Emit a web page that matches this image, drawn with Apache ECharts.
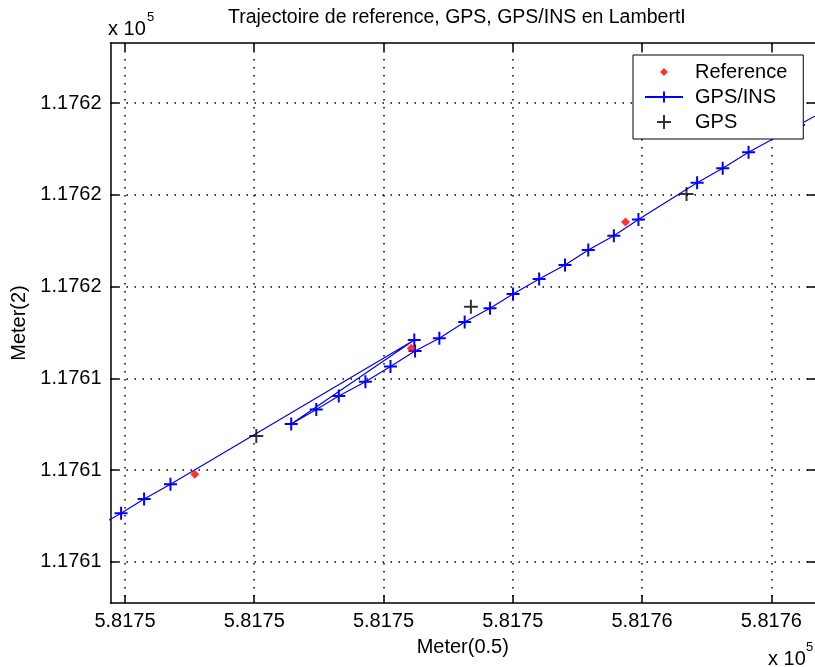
<!DOCTYPE html>
<html>
<head>
<meta charset="utf-8">
<script src="https://cdn.jsdelivr.net/npm/echarts@6/dist/echarts.min.js"></script>
<style>
html,body{margin:0;padding:0;background:#fff;}
#chart{width:815px;height:667px;}
</style>
</head>
<body>
<div id="chart"></div>
<script>
// ---- data ----
const xTickValues = [581753, 581753.5, 581754, 581754.5, 581755, 581755.5];
const xTickLabels = ['5.8175', '5.8175', '5.8175', '5.8175', '5.8176', '5.8176'];
const yTickValues = [117610, 117612, 117614, 117616, 117618, 117620];
const yTickLabels = ['1.1761', '1.1761', '1.1761', '1.1762', '1.1762', '1.1762'];
const xRange = [581752.944, 581755.669];
const yRange = [117609.099, 117621.313];

// GPS/INS trajectory (Lambert I, metres)
const insX = [581752.888, 581752.985, 581753.074, 581753.176, 581754.119, 581753.643, 581753.740,
  581753.827, 581753.930, 581754.027, 581754.122, 581754.216, 581754.314, 581754.412, 581754.501,
  581754.602, 581754.702, 581754.792, 581754.891, 581754.986, 581755.213, 581755.312, 581755.412,
  581755.605, 581755.706];
const insY = [117610.746, 117611.056, 117611.367, 117611.688, 117614.835, 117613.003, 117613.320,
  117613.614, 117613.926, 117614.257, 117614.595, 117614.872, 117615.228, 117615.527, 117615.839,
  117616.166, 117616.471, 117616.798, 117617.110, 117617.463, 117618.266, 117618.580, 117618.929,
  117619.524, 117619.830];

// Reference points
const refX = [581753.270, 581754.107, 581754.936];
const refY = [117611.906, 117614.654, 117617.409];

// GPS points
const gpsX = [581753.508, 581754.338, 581755.172];
const gpsY = [117612.742, 117615.562, 117618.020];

const seriesNames = ['Reference', 'GPS/INS', 'GPS'];
const titleText = 'Trajectoire de reference, GPS, GPS/INS en LambertI';

// ---- build ----
const zip = (xs, ys) => xs.map((x, i) => [x, ys[i]]);
const FONT = '"Liberation Sans", Arial, Helvetica, sans-serif';
const PLUS = 'path://M0,6L12,6M6,0L6,12';
const DIAMOND_PAD = 'path://M0,0M14,14M7,3L11,7L7,11L3,7Z';

function labelFor(values, labels) {
  return function (v) {
    const i = values.findIndex(t => Math.abs(t - v) < 1e-6);
    return i >= 0 ? labels[i] : '';
  };
}

const axisLineStyle = { color: '#000', width: 1.5 };
const tickCommon = { show: true, inside: true, length: 8, lineStyle: { color: '#000', width: 1.5 } };
const gridLine = { show: true, lineStyle: { color: '#000', width: 1.5, type: [1.5, 6.5] } };

const chart = echarts.init(document.getElementById('chart'), null, { renderer: 'canvas' });
chart.setOption({
  animation: false,
  backgroundColor: '#fff',
  title: {
    text: titleText,
    left: 228, top: 8, padding: 0,
    textStyle: { fontFamily: FONT, fontSize: 19.5, fontWeight: 'normal', color: '#000' }
  },
  grid: { left: 110.5, top: 43, width: 706, height: 560, containLabel: false },
  legend: {
    orient: 'vertical',
    left: 633, top: 55,
    padding: [7, 16, 7, 11],
    backgroundColor: '#fff',
    borderColor: '#000', borderWidth: 1, borderRadius: 0,
    itemWidth: 38, itemHeight: 14, itemGap: 5,
    selectedMode: false,
    textStyle: { fontFamily: FONT, fontSize: 20, lineHeight: 20, color: '#000', padding: [0, 0, 0, 7] },
    data: [
      { name: seriesNames[0], icon: DIAMOND_PAD },
      { name: seriesNames[1] },
      { name: seriesNames[2] }
    ]
  },
  xAxis: [{
    type: 'value', position: 'bottom', min: xRange[0], max: xRange[1],
    name: 'Meter(0.5)', nameLocation: 'middle', nameGap: 34,
    nameTextStyle: { fontFamily: FONT, fontSize: 20, color: '#000' },
    axisLine: { show: true, onZero: false, lineStyle: axisLineStyle },
    axisTick: Object.assign({ customValues: xTickValues }, tickCommon),
    axisLabel: { customValues: xTickValues, formatter: labelFor(xTickValues, xTickLabels),
      margin: 8, fontFamily: FONT, fontSize: 20, color: '#000' },
    splitLine: gridLine
  }, {
    type: 'value', position: 'top', min: xRange[0], max: xRange[1],
    axisLine: { show: true, onZero: false, lineStyle: axisLineStyle },
    axisTick: Object.assign({ customValues: xTickValues }, tickCommon),
    axisLabel: { show: false },
    splitLine: { show: false }
  }],
  yAxis: [{
    type: 'value', position: 'left', min: yRange[0], max: yRange[1],
    name: 'Meter(2)', nameLocation: 'middle', nameGap: 74,
    nameTextStyle: { fontFamily: FONT, fontSize: 20, color: '#000' },
    axisLine: { show: true, onZero: false, lineStyle: axisLineStyle },
    axisTick: Object.assign({ customValues: yTickValues }, tickCommon),
    axisLabel: { customValues: yTickValues, formatter: labelFor(yTickValues, yTickLabels),
      margin: 9, fontFamily: FONT, fontSize: 20, color: '#000' },
    splitLine: gridLine
  }, {
    type: 'value', position: 'right', min: yRange[0], max: yRange[1],
    axisLine: { show: false },
    axisTick: Object.assign({ customValues: yTickValues }, tickCommon),
    axisLabel: { show: false },
    splitLine: { show: false }
  }],
  series: [{
    name: seriesNames[1],
    type: 'line',
    xAxisIndex: 0, yAxisIndex: 0,
    data: zip(insX, insY),
    symbol: PLUS, symbolSize: 13, showAllSymbol: true,
    lineStyle: { color: '#0000ff', width: 1.2 },
    itemStyle: { color: '#0000ff', borderColor: '#0000ff', borderWidth: 2 },
    clip: true, z: 2
  }, {
    name: seriesNames[0],
    type: 'scatter',
    data: zip(refX, refY),
    symbol: 'diamond', symbolSize: 9,
    itemStyle: { color: '#ff0000' },
    z: 3
  }, {
    name: seriesNames[2],
    type: 'scatter',
    data: zip(gpsX, gpsY),
    symbol: PLUS, symbolSize: 14,
    itemStyle: { color: '#000', borderColor: '#000', borderWidth: 2 },
    z: 4
  }],
  graphic: [
    { type: 'text', z: 10, style: { text: 'x 10', x: 108, y: 29, textAlign: 'left', textVerticalAlign: 'middle',
      font: '20px ' + FONT, fill: '#000' } },
    { type: 'text', z: 10, style: { text: '5', x: 147, y: 17, textAlign: 'left', textVerticalAlign: 'middle',
      font: '13px ' + FONT, fill: '#000' } },
    { type: 'text', z: 10, style: { text: 'x 10', x: 768, y: 659, textAlign: 'left', textVerticalAlign: 'middle',
      font: '20px ' + FONT, fill: '#000' } },
    { type: 'text', z: 10, style: { text: '5', x: 806, y: 647, textAlign: 'left', textVerticalAlign: 'middle',
      font: '13px ' + FONT, fill: '#000' } }
  ]
});
</script>
</body>
</html>
